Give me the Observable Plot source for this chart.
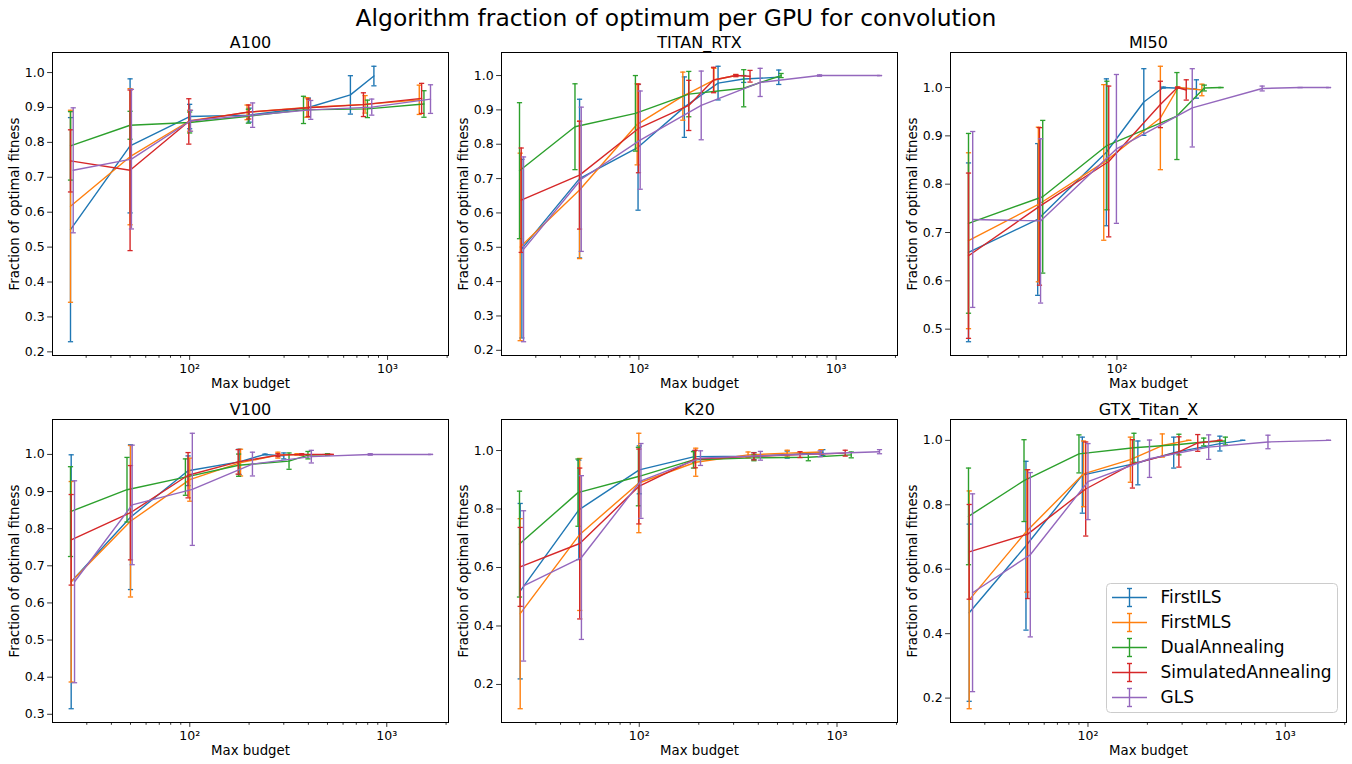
<!DOCTYPE html>
<html>
<head>
<meta charset="utf-8">
<script src="https://cdn.jsdelivr.net/npm/d3@7"></script>
<script src="https://cdn.jsdelivr.net/npm/@observablehq/plot@0.6"></script>
<style>
  body { margin: 0; background: #fff; font-family: "DejaVu Sans", sans-serif; }
  #root { position: relative; width: 1352px; height: 764px; overflow: hidden; background: #fff; }
  #title { position: absolute; left: 0; top: 4px; width: 1352px; text-align: center; font-size: 23.4px; color: #000; line-height: 28px; }
  .panel { position: absolute; }
  .legend { position: absolute; }
</style>
</head>
<body>
<div id="root">
  <div id="title">Algorithm fraction of optimum per GPU for convolution</div>
</div>
<script>
// ---------- categories ----------
const algorithms = ["FirstILS", "FirstMLS", "DualAnnealing", "SimulatedAnnealing", "GLS"];
const colors = ["#1f77b4", "#ff7f0e", "#2ca02c", "#d62728", "#9467bd"];
const gpus = ["A100", "TITAN_RTX", "MI50", "V100", "K20", "GTX_Titan_X"];

// ---------- data: [max budget, mean fraction, std] ----------
const A100_FirstILS = [[25,0.550,0.321],[50,0.790,0.192],[100,0.874,0.035],[200,0.878,0.020],[398,0.900,0.027],[649,0.936,0.055],[853,0.990,0.028]];
const A100_FirstMLS = [[25,0.617,0.275],[50,0.759,0.195],[100,0.862,0.030],[195,0.886,0.021],[391,0.900,0.028],[770,0.909,0.025],[1446,0.922,0.042]];
const A100_DualAnnealing = [[25,0.790,0.098],[50,0.849,0.040],[100,0.857,0.030],[198,0.875,0.020],[376,0.893,0.039],[791,0.896,0.025],[1527,0.910,0.038]];
const A100_SimulatedAnnealing = [[25,0.747,0.089],[50,0.720,0.230],[99,0.860,0.065],[199,0.887,0.020],[398,0.899,0.025],[755,0.908,0.034],[1486,0.926,0.043]];
const A100_GLS = [[25.8,0.720,0.179],[50.8,0.752,0.200],[101,0.862,0.030],[208,0.878,0.035],[409,0.893,0.027],[832,0.901,0.023],[1648,0.924,0.041]];

const TITAN_RTX_FirstILS = [[25.5,0.496,0.260],[50,0.700,0.231],[99,0.791,0.183],[170,0.908,0.088],[252,0.978,0.049],[340,0.990,0.010],[512,0.995,0.021]];
const TITAN_RTX_FirstMLS = [[25,0.501,0.273],[50,0.667,0.200],[98,0.858,0.118],[167,0.940,0.070],[240,0.987,0.034],[310,1.000,0.003]];
const TITAN_RTX_DualAnnealing = [[24.8,0.723,0.198],[47.4,0.851,0.125],[96,0.890,0.110],[179,0.946,0.066],[340,0.963,0.054],[526,1.000,0.006]];
const TITAN_RTX_SimulatedAnnealing = [[25.3,0.637,0.152],[50,0.710,0.157],[99.5,0.846,0.129],[179,0.913,0.073],[239,0.987,0.037],[310,1.000,0.003],[366,0.998,0.017]];
const TITAN_RTX_GLS = [[26,0.494,0.269],[51,0.698,0.210],[101.5,0.812,0.143],[207,0.913,0.100],[412,0.980,0.041],[824,1.000,0.002],[1660,1.000,0.000]];

const MI50_FirstILS = [[25,0.659,0.185],[47.7,0.727,0.157],[90.6,0.866,0.152],[128.5,0.970,0.069],[154,1.000,0.001],[210,0.997,0.019]];
const MI50_FirstMLS = [[25,0.683,0.182],[48,0.758,0.160],[88.4,0.845,0.161],[150,0.937,0.107],[177,1.000,0.001],[221,0.995,0.012]];
const MI50_DualAnnealing = [[25,0.719,0.186],[50,0.774,0.158],[91,0.880,0.133],[175,0.941,0.090],[226,0.999,0.006],[264,1.000,0.000]];
const MI50_SimulatedAnnealing = [[25,0.652,0.171],[48.5,0.754,0.163],[92.6,0.847,0.156],[150,0.965,0.048],[176,1.000,0.001],[191,0.995,0.021]];
const MI50_GLS = [[26,0.727,0.182],[49,0.724,0.170],[99.5,0.873,0.154],[202,0.958,0.081],[388,0.998,0.005],[553,1.000,0.000],[721,1.000,0.000]];

const V100_FirstILS = [[25,0.657,0.342],[50,0.831,0.195],[98,0.956,0.040],[178,0.980,0.034],[241,1.000,0.001],[300,0.996,0.008]];
const V100_FirstMLS = [[25,0.657,0.270],[50,0.820,0.204],[100,0.932,0.058],[181,0.978,0.036],[280,0.998,0.008],[350,1.000,0.002]];
const V100_DualAnnealing = [[24.8,0.846,0.121],[48,0.905,0.087],[95,0.939,0.049],[177,0.971,0.030],[319,0.982,0.022],[398,0.998,0.010],[500,1.000,0.002]];
const V100_SimulatedAnnealing = [[25,0.770,0.122],[50,0.843,0.127],[98,0.944,0.061],[176,0.980,0.033],[280,0.998,0.004],[370,1.000,0.002],[522,1.000,0.000]];
const V100_GLS = [[26,0.657,0.272],[51,0.864,0.161],[103,0.906,0.151],[208,0.974,0.032],[414,0.994,0.017],[824,1.000,0.002],[1667,1.000,0.000]];

const K20_FirstILS = [[25,0.519,0.300],[49.5,0.797,0.170],[100,0.934,0.082],[190,0.979,0.020],[380,0.981,0.012],[560,0.986,0.012],[848,0.993,0.010]];
const K20_FirstMLS = [[25,0.442,0.325],[50,0.713,0.260],[99.5,0.889,0.170],[193,0.960,0.048],[355,0.985,0.010],[560,0.991,0.010],[830,0.995,0.008]];
const K20_DualAnnealing = [[24.8,0.680,0.181],[49,0.856,0.115],[99,0.911,0.100],[188,0.968,0.028],[380,0.975,0.010],[716,0.977,0.012],[1180,0.985,0.010]];
const K20_SimulatedAnnealing = [[25,0.602,0.135],[50,0.682,0.258],[99.5,0.877,0.128],[192,0.971,0.030],[380,0.980,0.012],[650,0.986,0.010],[1100,0.991,0.010]];
const K20_GLS = [[26,0.537,0.257],[51,0.634,0.280],[102,0.896,0.128],[204,0.974,0.025],[410,0.982,0.015],[822,0.989,0.010],[1640,0.996,0.007]];

const GTX_Titan_X_FirstILS = [[25,0.465,0.275],[48.5,0.673,0.262],[93.6,0.892,0.118],[179,0.930,0.068],[272,0.962,0.048],[466,0.990,0.023],[608,1.000,0.000]];
const GTX_Titan_X_FirstMLS = [[25,0.505,0.338],[49,0.719,0.190],[95,0.896,0.102],[164,0.940,0.070],[238,0.984,0.036],[324,1.000,0.000]];
const GTX_Titan_X_DualAnnealing = [[24.8,0.764,0.150],[47.4,0.875,0.127],[90,0.958,0.059],[171,0.977,0.045],[289,0.987,0.032],[386,0.995,0.012],[497,0.998,0.012]];
const GTX_Titan_X_SimulatedAnnealing = [[25,0.654,0.147],[49.5,0.709,0.200],[97.4,0.849,0.146],[168,0.927,0.075],[289,0.964,0.047],[360,0.992,0.026],[466,1.000,0.000]];
const GTX_Titan_X_GLS = [[26,0.527,0.307],[51,0.645,0.255],[100,0.872,0.118],[205,0.943,0.058],[409,0.979,0.038],[817,0.995,0.021],[1656,1.000,0.000]];

// ---------- tick labels ----------
const majorXTicks = [100, 1000];
const majorXLabels = ["10²", "10³"];
const yTicksA100 = [0.2,0.3,0.4,0.5,0.6,0.7,0.8,0.9,1.0];
const yTicksTITAN_RTX = [0.2,0.3,0.4,0.5,0.6,0.7,0.8,0.9,1.0];
const yTicksMI50 = [0.5,0.6,0.7,0.8,0.9,1.0];
const yTicksV100 = [0.3,0.4,0.5,0.6,0.7,0.8,0.9,1.0];
const yTicksK20 = [0.2,0.4,0.6,0.8,1.0];
const yTicksGTX_Titan_X = [0.2,0.4,0.6,0.8,1.0];

// ---------- assemble ----------
const panelSeries = [
  [A100_FirstILS, A100_FirstMLS, A100_DualAnnealing, A100_SimulatedAnnealing, A100_GLS],
  [TITAN_RTX_FirstILS, TITAN_RTX_FirstMLS, TITAN_RTX_DualAnnealing, TITAN_RTX_SimulatedAnnealing, TITAN_RTX_GLS],
  [MI50_FirstILS, MI50_FirstMLS, MI50_DualAnnealing, MI50_SimulatedAnnealing, MI50_GLS],
  [V100_FirstILS, V100_FirstMLS, V100_DualAnnealing, V100_SimulatedAnnealing, V100_GLS],
  [K20_FirstILS, K20_FirstMLS, K20_DualAnnealing, K20_SimulatedAnnealing, K20_GLS],
  [GTX_Titan_X_FirstILS, GTX_Titan_X_FirstMLS, GTX_Titan_X_DualAnnealing, GTX_Titan_X_SimulatedAnnealing, GTX_Titan_X_GLS]
];
const panelYTicks = [yTicksA100, yTicksTITAN_RTX, yTicksMI50, yTicksV100, yTicksK20, yTicksGTX_Titan_X];

// layout (frame positions)
const frameLefts = [52, 500.7, 950];
const frameTops = [52, 419];
const frameW = 396, frameH = 303;
const mL = 52, mR = 4, mT = 30, mB = 42;

const capSymbol = {
  draw(context, size) {
    const r = Math.sqrt(size / Math.PI);
    context.moveTo(-r, 0);
    context.lineTo(r, 0);
  }
};

const FONT = "DejaVu Sans";
const root = document.getElementById("root");

gpus.forEach((gpu, p) => {
  const series = panelSeries[p];
  const rows = [];
  series.forEach((pts, i) => pts.forEach(([x, m, s]) => rows.push({alg: algorithms[i], i, x, m, lo: m - s, hi: m + s})));
  const lx0 = Math.log10(d3.min(rows, d => d.x)), lx1 = Math.log10(d3.max(rows, d => d.x));
  const padX = (lx1 - lx0) * 0.05;
  const xDomain = [Math.pow(10, lx0 - padX), Math.pow(10, lx1 + padX)];
  const y0 = d3.min(rows, d => d.lo), y1 = d3.max(rows, d => d.hi);
  const padY = (y1 - y0) * 0.05;
  const yDomain = [y0 - padY, y1 + padY];

  const majors = majorXTicks.filter(t => t >= xDomain[0] && t <= xDomain[1]);
  const minors = [];
  for (let k = 1; k <= 3; k++) for (let m = 2; m <= 9; m++) {
    const v = m * Math.pow(10, k);
    if (v >= xDomain[0] && v <= xDomain[1]) minors.push(v);
  }

  const marks = [];
  algorithms.forEach((alg, i) => {
    const data = rows.filter(d => d.i === i);
    marks.push(Plot.ruleX(data, {x: "x", y1: "lo", y2: "hi", stroke: colors[i], strokeWidth: 1.4}));
    marks.push(Plot.dot(data, {x: "x", y: "lo", symbol: capSymbol, r: 2.6, stroke: colors[i], fill: "none", strokeWidth: 1.3}));
    marks.push(Plot.dot(data, {x: "x", y: "hi", symbol: capSymbol, r: 2.6, stroke: colors[i], fill: "none", strokeWidth: 1.3}));
    marks.push(Plot.line(data, {x: "x", y: "m", stroke: colors[i], strokeWidth: 1.4}));
  });

  marks.push(Plot.axisX(minors, {tickSize: 2.8, tickFormat: () => "", label: null, strokeWidth: 0.8}));
  marks.push(Plot.axisX(majors, {tickSize: 4.9, tickPadding: 4, fontSize: 12.5, label: null, strokeWidth: 0.8,
    tickFormat: d => majorXLabels[majorXTicks.indexOf(d)]}));
  marks.push(Plot.axisY(panelYTicks[p], {tickSize: 4.9, tickPadding: 3, fontSize: 12.5, label: null, strokeWidth: 0.8,
    tickFormat: d3.format(".1f")}));
  marks.push(Plot.frame({stroke: "black", strokeWidth: 1}));
  marks.push(Plot.text([gpu], {text: d => d, frameAnchor: "top", lineAnchor: "middle", textAnchor: "middle", dy: -10, fontSize: 16}));
  marks.push(Plot.text(["Max budget"], {text: d => d, frameAnchor: "bottom", lineAnchor: "middle", textAnchor: "middle", dy: 28, fontSize: 13.3}));
  marks.push(Plot.text(["Fraction of optimal fitness"], {text: d => d, frameAnchor: "left", lineAnchor: "middle", textAnchor: "middle", dx: -38, rotate: -90, fontSize: 13.3}));

  const chart = Plot.plot({
    width: mL + frameW + mR,
    height: mT + frameH + mB,
    marginLeft: mL, marginRight: mR, marginTop: mT, marginBottom: mB,
    x: {type: "log", domain: xDomain},
    y: {domain: yDomain},
    style: {fontFamily: FONT, fontSize: "12.5px", background: "transparent", color: "#000", overflow: "visible"},
    marks
  });
  const col = p % 3, row = Math.floor(p / 3);
  chart.classList.add("panel");
  chart.style.left = (frameLefts[col] - mL) + "px";
  chart.style.top = (frameTops[row] - mT) + "px";
  root.appendChild(chart);
});

// ---------- legend (in GTX_Titan_X panel, lower right) ----------
const legW = 232, legH = 130;
const leg = d3.select(root).append("svg")
  .attr("class", "legend")
  .attr("width", legW).attr("height", legH)
  .style("left", "1105.5px").style("top", "583px");
leg.append("rect").attr("x", 0.5).attr("y", 0.5).attr("width", legW - 1).attr("height", legH - 1)
  .attr("rx", 4).attr("fill", "white").attr("fill-opacity", 0.8).attr("stroke", "#cccccc");
algorithms.forEach((alg, i) => {
  const cy = 14.5 + 25 * i;
  const g = leg.append("g").attr("stroke", colors[i]).attr("stroke-width", 1.4);
  g.append("line").attr("x1", 6).attr("x2", 41).attr("y1", cy).attr("y2", cy);
  g.append("line").attr("x1", 23.5).attr("x2", 23.5).attr("y1", cy - 9).attr("y2", cy + 9);
  g.append("line").attr("x1", 21).attr("x2", 26).attr("y1", cy - 9).attr("y2", cy - 9);
  g.append("line").attr("x1", 21).attr("x2", 26).attr("y1", cy + 9).attr("y2", cy + 9);
  leg.append("text").attr("x", 54.5).attr("y", cy).attr("dy", "0.35em")
    .attr("font-family", FONT).attr("font-size", 17).attr("fill", "#000").text(alg);
});
</script>
</body>
</html>
